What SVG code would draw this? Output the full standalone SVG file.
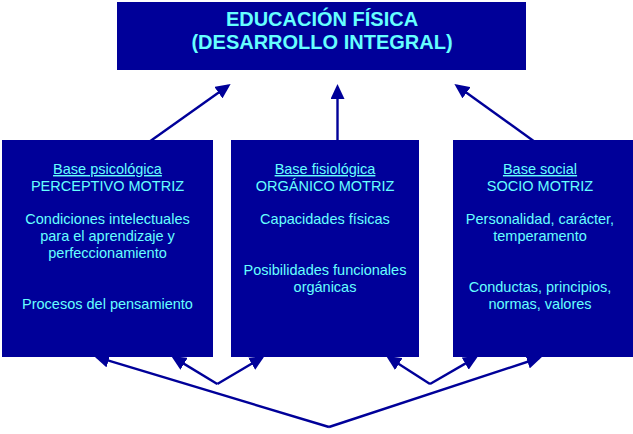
<svg xmlns="http://www.w3.org/2000/svg" width="633" height="434" viewBox="0 0 633 434">
<defs>
<style>
.box{fill:#000099;}
.t{font-family:"Liberation Sans",Arial,sans-serif;font-size:14.5px;fill:#66FFFF;text-anchor:middle;}
.u{text-decoration:underline;}
.title{font-family:"Liberation Sans",Arial,sans-serif;font-size:20px;font-weight:bold;fill:#66FFFF;text-anchor:middle;}
.c{stroke:#000099;stroke-width:2.4;fill:none;marker-end:url(#ah);}
</style>
<marker id="ah" markerUnits="userSpaceOnUse" markerWidth="15" markerHeight="14" refX="12" refY="7" orient="auto">
<path d="M0,0 L15,7 L0,14 z" fill="#000099"/>
</marker>
</defs>
<rect width="633" height="434" fill="#ffffff"/>
<g id="connectors">
<line class="c" x1="149" y1="142" x2="228.2" y2="85.7"/>
<line class="c" x1="337.5" y1="142" x2="337.5" y2="87"/>
<line class="c" x1="535" y1="142" x2="456.8" y2="85.7"/>
<line class="c" x1="329" y1="427" x2="97" y2="357.2"/>
<line class="c" x1="329" y1="427" x2="539" y2="358"/>
<line class="c" x1="217.3" y1="384" x2="173.8" y2="357.6"/>
<line class="c" x1="217.3" y1="384" x2="262" y2="357.6"/>
<line class="c" x1="430" y1="384" x2="388.7" y2="357.6"/>
<line class="c" x1="430" y1="384" x2="475.6" y2="357.6"/>
</g>
<g id="educacion-fisica">
<rect class="box" x="117" y="2" width="409" height="68"/>
<text class="title" x="322" y="26">EDUCACIÓN FÍSICA</text>
<text class="title" x="322" y="48.5">(DESARROLLO INTEGRAL)</text>
</g>
<g id="base-psicologica">
<rect class="box" x="2" y="140" width="211" height="217"/>
<text class="t u" x="107.5" y="174">Base psicológica</text>
<text class="t" x="107.5" y="191">PERCEPTIVO MOTRIZ</text>
<text class="t" x="107.5" y="224">Condiciones intelectuales</text>
<text class="t" x="107.5" y="241">para el aprendizaje y</text>
<text class="t" x="107.5" y="258">perfeccionamiento</text>
<text class="t" x="107.5" y="308.5">Procesos del pensamiento</text>
</g>
<g id="base-fisiologica">
<rect class="box" x="231" y="140" width="188" height="217"/>
<text class="t u" x="325" y="174">Base fisiológica</text>
<text class="t" x="325" y="191">ORGÁNICO MOTRIZ</text>
<text class="t" x="325" y="224">Capacidades físicas</text>
<text class="t" x="325" y="275">Posibilidades funcionales</text>
<text class="t" x="325" y="292">orgánicas</text>
</g>
<g id="base-social">
<rect class="box" x="453" y="140" width="180" height="217"/>
<text class="t u" x="540" y="174">Base social</text>
<text class="t" x="540" y="191">SOCIO MOTRIZ</text>
<text class="t" x="540" y="224">Personalidad, carácter,</text>
<text class="t" x="540" y="241">temperamento</text>
<text class="t" x="540" y="291.5">Conductas, principios,</text>
<text class="t" x="540" y="308.5">normas, valores</text>
</g>
</svg>
